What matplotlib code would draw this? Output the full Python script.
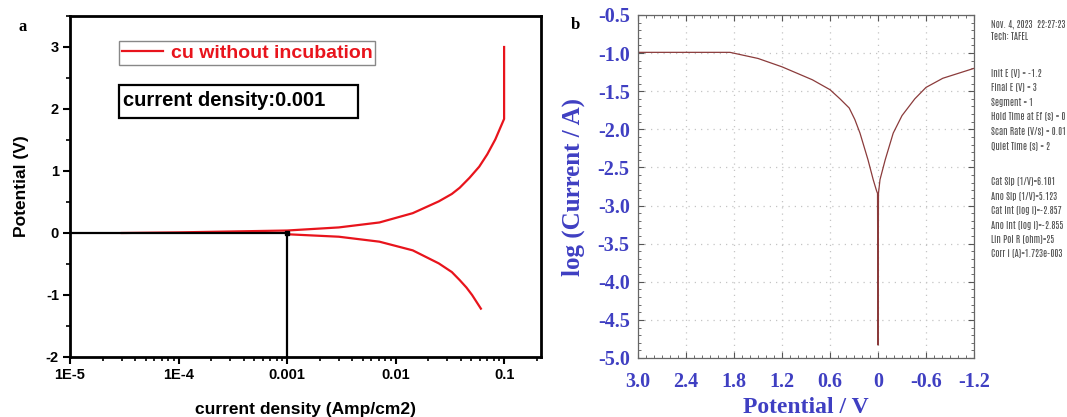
import matplotlib
matplotlib.use('Agg')
import matplotlib.pyplot as plt
from matplotlib.patches import Rectangle
from matplotlib.ticker import LogLocator, MultipleLocator, FixedLocator, FixedFormatter, NullFormatter

# panel a: polarization curve (current density vs potential)
anodic_i = [3e-5, 1e-4, 0.001, 0.003, 0.0071, 0.0144, 0.025, 0.033, 0.039, 0.048, 0.059, 0.07, 0.083, 0.1, 0.1]
anodic_v = [0.0, 0.01, 0.04, 0.09, 0.17, 0.32, 0.51, 0.63, 0.73, 0.89, 1.07, 1.27, 1.51, 1.84, 3.0]
cathodic_i = [0.001, 0.003, 0.0071, 0.0144, 0.025, 0.033, 0.039, 0.045, 0.0507, 0.0611]
cathodic_v = [-0.02, -0.06, -0.14, -0.28, -0.49, -0.63, -0.76, -0.88, -1.0, -1.22]
icorr = 0.001
a_xticks = [1e-5, 1e-4, 1e-3, 1e-2, 1e-1]
a_xlabels = ['1E-5', '1E-4', '0.001', '0.01', '0.1']
a_yticks = [-2, -1, 0, 1, 2, 3]

# panel b: Tafel plot
pot_b = [3.0, 1.85, 1.5, 1.2, 0.82, 0.6, 0.475, 0.36, 0.29, 0.225, 0.125, 0.06, 0.02, 0.006,
         0.0, -0.006, -0.025, -0.09, -0.19, -0.3, -0.46, -0.6, -0.81, -1.2]
logi_b = [-0.99, -0.99, -1.07, -1.18, -1.35, -1.48, -1.6, -1.72, -1.87, -2.05, -2.40, -2.66, -2.80, -2.84,
          -4.83, -2.84, -2.66, -2.40, -2.05, -1.82, -1.6, -1.45, -1.33, -1.2]
b_xticks = [3.0, 2.4, 1.8, 1.2, 0.6, 0.0, -0.6, -1.2]
b_xlabels = ['3.0', '2.4', '1.8', '1.2', '0.6', '0', '-0.6', '-1.2']
b_yticks = [-0.5, -1.0, -1.5, -2.0, -2.5, -3.0, -3.5, -4.0, -4.5, -5.0]

info_head = ['Nov. 4, 2023  22:27:23', 'Tech: TAFEL']
info_params = ['Init E (V) = -1.2', 'Final E (V) = 3', 'Segment = 1',
               'Hold Time at Ef (s) = 0', 'Scan Rate (V/s) = 0.01', 'Quiet Time (s) = 2']
info_results = ['Cat Slp (1/V)=6.101', 'Ano Slp (1/V)=5.123', 'Cat Int (log i)=-2.857',
                'Ano Int (log i)=-2.855', 'Lin Pol R (ohm)=25', 'Corr i (A)=1.723e-003']

W, H = 1067, 417
fig = plt.figure(figsize=(W / 100, H / 100), dpi=100)
sans = 'Liberation Sans'
serif = 'Liberation Serif'

# ---------------- panel a ----------------
red = '#e8141c'
axa = fig.add_axes([70 / W, 1 - 357 / H, (541 - 70) / W, (357 - 16) / H])
axa.plot(anodic_i, anodic_v, color=red, lw=1.6)
axa.plot(cathodic_i, cathodic_v, color=red, lw=1.6, label='cu without incubation')
axa.plot([1e-5, icorr], [0, 0], color='black', lw=1.6)
axa.plot([icorr, icorr], [0, -2], color='black', lw=1.6)
axa.plot([icorr], [0], marker='s', ms=3.5, color='black')
axa.set_xscale('log')
axa.set_xlim(1e-5, 10 ** -0.66)
axa.set_ylim(-2, 3.5)
axa.xaxis.set_major_locator(FixedLocator(a_xticks))
axa.xaxis.set_major_formatter(FixedFormatter(a_xlabels))
axa.xaxis.set_minor_locator(LogLocator(base=10, subs=range(2, 10), numticks=20))
axa.xaxis.set_minor_formatter(NullFormatter())
axa.set_yticks(a_yticks)
axa.set_yticklabels([str(v) for v in a_yticks])
axa.yaxis.set_minor_locator(MultipleLocator(0.5))
for s in axa.spines.values():
    s.set_linewidth(2)
axa.tick_params(which='major', direction='out', length=5, width=1.5,
                labelsize=10.5, top=False, right=False, pad=3)
axa.tick_params(which='minor', direction='out', length=3, width=1.2, top=False, right=False)
for lab in axa.get_xticklabels() + axa.get_yticklabels():
    lab.set_fontweight('bold')
    lab.set_family(sans)
axa.set_xlabel('current density (Amp/cm2)', fontsize=12.5, fontweight='bold',
               family=sans, labelpad=14)
axa.set_ylabel('Potential (V)', fontsize=12.5, fontweight='bold', family=sans, labelpad=12)
leg = axa.legend(loc='upper left', bbox_to_anchor=(0.104, 0.926), borderaxespad=0,
                 fancybox=False, framealpha=1, edgecolor='#888888', handlelength=2.1,
                 borderpad=0.15, handletextpad=0.4,
                 prop={'family': sans, 'weight': 'bold', 'size': 14})
leg.get_frame().set_linewidth(1.0)
for t in leg.get_texts():
    t.set_color(red)
axa.add_patch(Rectangle((0.104, 0.701), 0.507, 0.097, transform=axa.transAxes,
                        fill=False, ec='black', lw=1.6))
axa.text(0.1125, 0.751, 'current density:0.001', transform=axa.transAxes,
         fontsize=14.5, fontweight='bold', family=sans, va='center', ha='left')
fig.text(23 / W, 1 - 27 / H, 'a', fontsize=12, fontweight='bold', family=serif,
         va='center', ha='center')

# ---------------- panel b ----------------
blue = '#3f3fc2'
axb = fig.add_axes([638 / W, 1 - 358 / H, (974 - 638) / W, (358 - 15) / H])
axb.plot(pot_b, logi_b, color='#8b3b3b', lw=0.9)
axb.set_xlim(3.0, -1.2)
axb.set_ylim(-5.0, -0.5)
axb.set_xticks(b_xticks)
axb.set_xticklabels(b_xlabels)
axb.set_yticks(b_yticks)
axb.set_yticklabels(['%.1f' % v for v in b_yticks])
axb.xaxis.set_minor_locator(MultipleLocator(0.1))
axb.yaxis.set_minor_locator(MultipleLocator(0.1))
axb.grid(True, which='major', color='#c4c4c4', linestyle=(0, (1, 4)), lw=0.9)
for s in axb.spines.values():
    s.set_linewidth(0.9)
    s.set_color('#666666')
axb.tick_params(which='major', direction='in', length=4, width=0.8, color='#555555',
                top=True, right=True, labelsize=14.5, labelcolor=blue, pad=6)
axb.tick_params(axis='x', which='major', pad=10)
axb.tick_params(which='minor', direction='in', length=2, width=0.6, color='#555555',
                top=True, right=True)
for lab in axb.get_xticklabels() + axb.get_yticklabels():
    lab.set_fontweight('bold')
    lab.set_family(serif)
axb.set_xlabel('Potential / V', fontsize=17, fontweight='bold', family=serif,
               color=blue, labelpad=4)
axb.set_ylabel('log (Current / A)', fontsize=18, fontweight='bold', family=serif,
               color=blue, labelpad=9)
fig.text(575 / W, 1 - 25 / H, 'b', fontsize=12, fontweight='bold', family=serif,
         va='center', ha='center')

info_font = dict(fontsize=6.8, color='#505050', va='center', ha='left',
                 family=['Antonio', 'Archivo Narrow', 'DejaVu Sans'], fontweight='light')
x0 = 991 / W
for k, s in enumerate(info_head):
    fig.text(x0, 1 - (24 + 13 * k) / H, s, **info_font)
for k, s in enumerate(info_params):
    fig.text(x0, 1 - (73 + 14.6 * k) / H, s, **info_font)
for k, s in enumerate(info_results):
    fig.text(x0, 1 - (182 + 14.4 * k) / H, s, **info_font)

fig.savefig('out.png', dpi=100, facecolor='white')
